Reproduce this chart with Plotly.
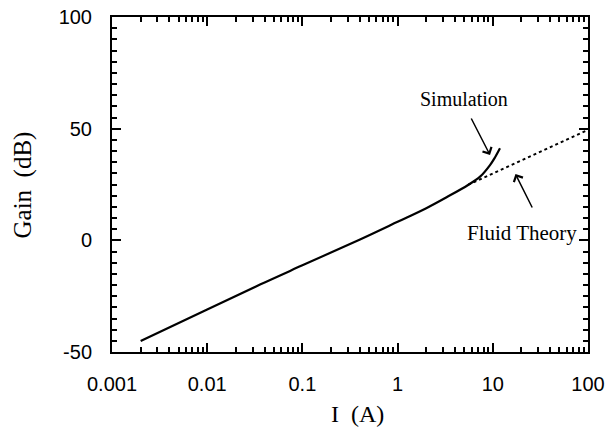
import numpy as np
import plotly.graph_objects as go

# values
sim_current = [0.002, 0.01, 0.0359, 0.1, 0.403, 1, 2, 3.27, 5.5, 7.35, 9.35, 10.5, 11.9]
sim_gain = [-45.1, -31.0, -19.8, -11.2, 0.4, 8.3, 14.4, 19.3, 24.8, 28.5, 33.7, 37.0, 41.2]

fluid_current = [5.5, 16.4, 100]
fluid_gain = [24.8, 34.1, 49.5]

x_ticks = [0.001, 0.01, 0.1, 1, 10, 100]
x_ticktext = ["0.001", "0.01", "0.1", "1", "10", "100"]
y_ticks = [-50, 0, 50, 100]
y_ticktext = ["-50", "0", "50", "100"]

minor_x = [m * 10.0 ** e for e in range(-3, 2) for m in range(2, 10)]

fig = go.Figure()
fig.add_trace(go.Scatter(x=fluid_current, y=fluid_gain, mode="lines",
                         line=dict(color="black", width=2, dash="dot"), showlegend=False))
fig.add_trace(go.Scatter(x=sim_current, y=sim_gain, mode="lines", line_shape="spline",
                         line=dict(color="black", width=2.2), showlegend=False))

tick_font = dict(family="Liberation Sans, Arial, sans-serif", size=20, color="black")
serif = "Liberation Serif, Times New Roman, serif"

fig.update_xaxes(type="log", range=[-3, 2], tickvals=x_ticks, ticktext=x_ticktext,
                 ticks="inside", ticklen=9, tickwidth=1.5, tickcolor="black",
                 showline=True, linewidth=2, linecolor="black", mirror="ticks",
                 showgrid=False, zeroline=False, tickfont=tick_font, ticklabelstandoff=13,
                 automargin=False, ticklabeloverflow="allow",
                 minor=dict(tickvals=minor_x, ticks="inside", ticklen=5, tickwidth=1.5,
                            tickcolor="black", showgrid=False))
fig.update_yaxes(range=[-50, 100], tickvals=y_ticks, ticktext=y_ticktext,
                 ticks="inside", ticklen=9, tickwidth=1.5, tickcolor="black",
                 showline=True, linewidth=2, linecolor="black", mirror="ticks",
                 showgrid=False, zeroline=False, tickfont=tick_font, ticklabelstandoff=14,
                 automargin=False, ticklabeloverflow="allow",
                 minor=dict(dtick=5, ticks="inside", ticklen=5, tickwidth=1.5,
                            tickcolor="black", showgrid=False))

annots = [
    dict(x=0.739, y=0.755, xref="paper", yref="paper", text="Simulation", showarrow=False,
         xanchor="center", yanchor="middle",
         font=dict(family=serif, size=20, color="black")),
    dict(x=0.862, y=0.355, xref="paper", yref="paper", text="Fluid Theory", showarrow=False,
         xanchor="center", yanchor="middle",
         font=dict(family=serif, size=21, color="black")),
    dict(x=np.log10(9.35), y=38.2, xref="x", yref="y", text="", showarrow=True,
         ax=-19.5, ay=-38, arrowhead=4, arrowsize=1.3, arrowwidth=1.5, arrowcolor="black"),
    dict(x=np.log10(17.3), y=29.7, xref="x", yref="y", text="", showarrow=True,
         ax=17.5, ay=35, arrowhead=4, arrowsize=1.3, arrowwidth=1.5, arrowcolor="black"),
    dict(x=0.515, y=-0.185, xref="paper", yref="paper", text="I\u00a0\u00a0(A)", showarrow=False,
         xanchor="center", yanchor="middle", font=dict(family=serif, size=24, color="black")),
    dict(x=-0.187, y=0.5, xref="paper", yref="paper", text="Gain\u00a0\u00a0(dB)", showarrow=False,
         textangle=-90, xanchor="center", yanchor="middle",
         font=dict(family=serif, size=25, color="black")),
]
fig.update_layout(annotations=annots, width=611, height=428,
                  margin=dict(l=112, r=23, t=17, b=76),
                  plot_bgcolor="white", paper_bgcolor="white")

# drop the default 8px page margin so the figure fills the window
fig.write_html("out.html", config={"displayModeBar": False},
               post_script="document.body.style.margin='0';")
